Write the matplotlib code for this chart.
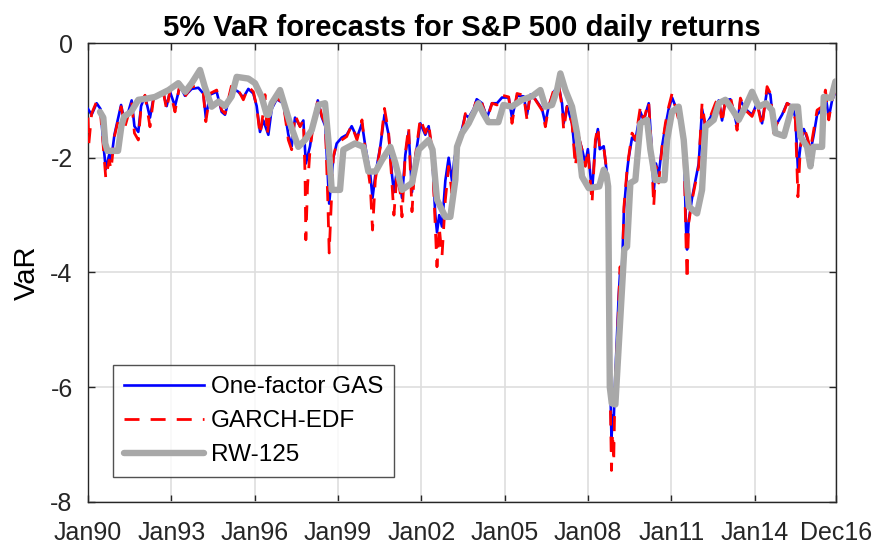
import matplotlib
matplotlib.use("Agg")
import matplotlib.pyplot as plt

plt.rcParams['font.family'] = ['Liberation Sans', 'DejaVu Sans']

title = "5% VaR forecasts for S&P 500 daily returns"
ylabel = "VaR"
series_names = ["One-factor GAS", "GARCH-EDF", "RW-125"]
tick_pos = [1990.0, 1993.0, 1996.0, 1999.0, 2002.0, 2005.0, 2008.0, 2011.0, 2014.0, 2016.92]
tick_labels = ["Jan90", "Jan93", "Jan96", "Jan99", "Jan02", "Jan05", "Jan08", "Jan11", "Jan14", "Dec16"]
y_ticks = [0, -2, -4, -6, -8]

# (decimal year, VaR) pairs
gas_pts = [
(1990.0,-1.15),(1990.13,-1.25),(1990.31,-1.05),(1990.45,-1.15),(1990.55,-1.75),(1990.64,-2.2),
(1990.76,-1.95),(1990.83,-2.05),(1990.95,-1.6),(1991.09,-1.3),(1991.19,-1.08),(1991.33,-1.4),
(1991.45,-1.2),(1991.57,-1.0),(1991.67,-1.45),(1991.81,-1.55),(1991.91,-1.1),(1992.05,-0.92),
(1992.23,-1.3),(1992.35,-0.98),(1992.53,-0.9),(1992.71,-0.88),(1992.83,-1.1),(1992.95,-0.85),
(1993.13,-1.1),(1993.31,-0.75),(1993.49,-0.92),(1993.73,-0.8),(1993.97,-0.78),(1994.15,-0.88),
(1994.24,-1.3),(1994.39,-0.9),(1994.63,-0.85),(1994.81,-1.2),(1994.93,-1.25),(1995.17,-0.78),
(1995.41,-0.85),(1995.59,-0.95),(1995.77,-0.8),(1995.95,-0.88),(1996.07,-1.1),(1996.19,-1.55),
(1996.31,-1.35),(1996.49,-1.6),(1996.61,-1.15),(1996.79,-0.98),(1997.03,-1.05),(1997.21,-1.6),
(1997.33,-1.8),(1997.45,-1.3),(1997.63,-1.45),(1997.75,-1.35),(1997.84,-2.1),(1997.99,-1.8),
(1998.11,-1.4),(1998.27,-1.0),(1998.42,-1.3),(1998.54,-1.45),(1998.68,-2.8),(1998.83,-2.0),
(1998.95,-1.75),(1999.13,-1.65),(1999.31,-1.6),(1999.49,-1.45),(1999.68,-1.65),(1999.86,-1.4),
(1999.98,-1.8),(2000.16,-2.3),(2000.24,-2.7),(2000.34,-2.3),(2000.52,-1.8),(2000.67,-1.25),
(2000.82,-1.6),(2000.94,-2.3),(2001.01,-2.6),(2001.12,-2.2),(2001.24,-2.45),(2001.30,-2.7),
(2001.42,-1.95),(2001.54,-1.55),(2001.66,-2.6),(2001.78,-2.0),(2001.96,-1.4),(2002.14,-1.6),
(2002.26,-1.45),(2002.38,-1.9),(2002.5,-3.0),(2002.56,-3.3),(2002.64,-3.0),(2002.74,-3.2),
(2002.86,-2.4),(2002.98,-2.0),(2003.1,-2.4),(2003.19,-2.0),(2003.34,-1.7),(2003.46,-1.5),
(2003.58,-1.25),(2003.7,-1.3),(2003.88,-1.15),(2003.99,-0.98),(2004.18,-1.05),(2004.36,-1.3),
(2004.54,-1.05),(2004.72,-1.05),(2004.9,-0.95),(2005.14,-0.95),(2005.26,-1.3),(2005.44,-0.92),
(2005.68,-0.93),(2005.8,-1.25),(2005.92,-0.9),(2006.1,-0.98),(2006.34,-1.15),(2006.46,-1.4),
(2006.58,-1.1),(2006.76,-0.85),(2006.94,-0.75),(2007.06,-1.05),(2007.12,-1.4),(2007.24,-1.1),
(2007.42,-1.4),(2007.54,-2.0),(2007.66,-1.65),(2007.78,-1.85),(2007.9,-2.1),(2007.99,-1.85),
(2008.14,-2.6),(2008.26,-1.75),(2008.35,-1.5),(2008.42,-1.85),(2008.56,-1.8),(2008.68,-2.3),
(2008.74,-3.6),(2008.8,-6.0),(2008.84,-6.9),(2008.88,-6.5),(2008.92,-6.6),(2008.96,-6.0),
(2009.05,-5.0),(2009.1,-4.4),(2009.15,-4.0),(2009.2,-4.2),(2009.25,-3.5),(2009.29,-2.9),
(2009.41,-2.2),(2009.46,-2.0),(2009.58,-1.65),(2009.7,-1.7),(2009.88,-1.2),(2010.0,-1.35),
(2010.18,-1.05),(2010.27,-1.7),(2010.36,-2.6),(2010.44,-2.1),(2010.54,-2.3),(2010.66,-1.8),
(2010.78,-1.45),(2010.9,-1.15),(2011.02,-0.95),(2011.14,-1.1),(2011.32,-1.4),(2011.44,-1.65),
(2011.52,-3.2),(2011.56,-3.6),(2011.62,-3.1),(2011.74,-2.7),(2011.86,-2.4),(2011.98,-2.1),
(2012.1,-1.15),(2012.22,-1.45),(2012.4,-1.3),(2012.58,-1.1),(2012.7,-1.0),(2012.82,-1.35),
(2012.94,-1.0),(2013.12,-0.98),(2013.24,-1.2),(2013.36,-1.45),(2013.48,-1.0),(2013.66,-1.15),
(2013.9,-1.25),(2014.08,-1.05),(2014.26,-1.4),(2014.44,-0.82),(2014.56,-0.9),(2014.68,-1.5),
(2014.8,-1.4),(2014.98,-1.25),(2015.16,-1.05),(2015.34,-1.1),(2015.46,-1.3),(2015.55,-2.2),
(2015.64,-1.8),(2015.76,-1.5),(2015.88,-1.65),(2016.0,-1.9),(2016.12,-1.6),(2016.24,-1.25),
(2016.42,-1.15),(2016.54,-0.9),(2016.66,-1.3),(2016.78,-1.0),(2016.9,-0.85)]

garch_pts = [
(1990.0,-1.30),(1990.03,-1.75),(1990.13,-1.23),(1990.31,-1.02),(1990.43,-1.11),(1990.55,-1.81),
(1990.64,-2.36),(1990.76,-2.04),(1990.83,-2.21),(1990.95,-1.63),(1991.09,-1.34),(1991.19,-1.11),
(1991.33,-1.46),(1991.45,-1.25),(1991.57,-1.02),(1991.67,-1.57),(1991.81,-1.69),(1991.91,-1.11),
(1992.05,-0.91),(1992.23,-1.46),(1992.35,-0.99),(1992.53,-0.88),(1992.71,-0.85),(1992.83,-1.17),
(1992.95,-0.82),(1993.13,-1.20),(1993.31,-0.70),(1993.49,-0.93),(1993.73,-0.76),(1993.97,-0.76),
(1994.15,-0.88),(1994.24,-1.37),(1994.39,-0.88),(1994.63,-0.82),(1994.81,-1.17),(1994.93,-1.23),
(1995.17,-0.73),(1995.41,-0.82),(1995.59,-0.99),(1995.77,-0.76),(1995.95,-0.85),(1996.07,-1.11),
(1996.19,-1.60),(1996.28,-1.30),(1996.37,-0.90),(1996.45,-1.60),(1996.55,-1.20),(1996.61,-1.11),
(1996.79,-0.96),(1997.03,-1.05),(1997.21,-1.69),(1997.33,-1.86),(1997.45,-1.25),(1997.63,-1.46),
(1997.75,-1.34),(1997.81,-2.27),(1997.84,-3.43),(1997.90,-2.50),(1997.99,-1.86),(1998.11,-1.40),
(1998.27,-0.99),(1998.42,-1.28),(1998.54,-1.40),(1998.63,-2.74),(1998.68,-3.66),(1998.75,-2.85),
(1998.83,-1.98),(1998.95,-1.75),(1999.13,-1.69),(1999.31,-1.63),(1999.49,-1.43),(1999.68,-1.69),
(1999.86,-1.34),(1999.98,-1.86),(2000.16,-2.50),(2000.24,-3.26),(2000.34,-2.39),(2000.52,-1.81),
(2000.67,-1.14),(2000.82,-1.57),(2000.94,-2.44),(2001.01,-3.00),(2001.12,-2.27),(2001.24,-2.62),
(2001.30,-3.03),(2001.42,-1.92),(2001.54,-1.46),(2001.66,-2.94),(2001.78,-1.98),(2001.96,-1.31),
(2002.14,-1.57),(2002.26,-1.40),(2002.38,-1.86),(2002.50,-3.20),(2002.56,-3.90),(2002.64,-3.20),
(2002.74,-3.72),(2002.86,-2.74),(2002.98,-2.15),(2003.10,-2.62),(2003.19,-2.15),(2003.34,-1.75),
(2003.46,-1.57),(2003.58,-1.23),(2003.70,-1.34),(2003.88,-1.17),(2003.99,-0.96),(2004.18,-1.05),
(2004.36,-1.34),(2004.54,-1.05),(2004.72,-1.08),(2004.90,-0.91),(2005.14,-0.94),(2005.26,-1.40),
(2005.44,-0.88),(2005.68,-0.91),(2005.80,-1.34),(2005.92,-0.85),(2006.10,-0.99),(2006.34,-1.17),
(2006.46,-1.46),(2006.58,-1.11),(2006.76,-0.82),(2006.94,-0.73),(2007.06,-1.11),(2007.12,-1.52),
(2007.24,-1.11),(2007.42,-1.40),(2007.54,-2.15),(2007.66,-1.63),(2007.78,-1.86),(2007.90,-2.15),
(2007.99,-1.86),(2008.14,-2.79),(2008.26,-1.69),(2008.35,-1.46),(2008.42,-1.86),(2008.56,-1.81),
(2008.68,-2.27),(2008.74,-3.50),(2008.80,-6.30),(2008.84,-7.45),(2008.88,-6.80),(2008.92,-7.30),
(2008.96,-6.20),(2009.05,-5.20),(2009.10,-4.50),(2009.15,-3.90),(2009.20,-4.50),(2009.25,-3.60),
(2009.29,-2.85),(2009.41,-2.15),(2009.46,-1.98),(2009.58,-1.57),(2009.70,-1.69),(2009.88,-1.11),
(2010.00,-1.34),(2010.18,-1.02),(2010.27,-1.81),(2010.36,-2.85),(2010.44,-2.15),(2010.54,-2.44),
(2010.66,-1.81),(2010.78,-1.40),(2010.90,-1.11),(2011.02,-0.88),(2011.14,-1.11),(2011.32,-1.46),
(2011.44,-1.69),(2011.52,-3.43),(2011.56,-4.13),(2011.62,-3.14),(2011.74,-2.74),(2011.86,-2.44),
(2011.98,-2.15),(2012.10,-1.05),(2012.22,-1.46),(2012.40,-1.28),(2012.58,-1.05),(2012.70,-0.94),
(2012.82,-1.40),(2012.94,-0.99),(2013.12,-0.94),(2013.24,-1.20),(2013.36,-1.52),(2013.48,-0.96),
(2013.66,-1.17),(2013.90,-1.28),(2014.08,-1.05),(2014.26,-1.46),(2014.44,-0.76),(2014.56,-0.88),
(2014.68,-1.57),(2014.80,-1.40),(2014.98,-1.28),(2015.16,-1.05),(2015.34,-1.11),(2015.46,-1.34),
(2015.55,-2.68),(2015.64,-1.81),(2015.76,-1.46),(2015.88,-1.63),(2016.00,-1.86),(2016.12,-1.52),
(2016.24,-1.17),(2016.42,-1.11),(2016.54,-0.82),(2016.66,-1.34),(2016.78,-0.99),(2016.90,-0.82)]

rw_pts = [
(1990.43,-1.20),(1990.55,-1.30),(1990.62,-1.75),(1990.70,-1.88),(1991.08,-1.88),(1991.20,-1.45),
(1991.30,-1.28),(1991.55,-1.20),(1991.81,-0.99),(1992.10,-0.97),(1992.41,-0.94),(1992.90,-0.82),
(1993.25,-0.70),(1993.50,-0.85),(1993.73,-0.70),(1994.03,-0.47),(1994.20,-0.76),(1994.45,-1.11),
(1994.70,-1.02),(1994.93,-1.10),(1995.17,-0.93),(1995.35,-0.59),(1995.77,-0.62),(1996.01,-0.70),
(1996.25,-0.94),(1996.43,-1.25),(1996.50,-1.25),(1996.61,-1.05),(1996.91,-0.82),(1997.09,-1.11),
(1997.27,-1.40),(1997.57,-1.81),(1997.81,-1.69),(1998.05,-1.52),(1998.29,-1.08),(1998.53,-1.05),
(1998.65,-1.69),(1998.77,-2.56),(1999.07,-2.56),(1999.19,-1.86),(1999.61,-1.75),(1999.91,-1.81),
(2000.09,-2.24),(2000.35,-2.24),(2000.58,-2.04),(2000.88,-1.81),(2001.06,-2.09),(2001.30,-2.56),
(2001.66,-2.44),(2001.90,-1.86),(2002.26,-1.69),(2002.40,-1.86),(2002.56,-2.73),(2002.86,-3.03),
(2003.04,-3.03),(2003.22,-2.39),(2003.28,-1.81),(2003.46,-1.57),(2003.70,-1.40),(2004.05,-1.05),
(2004.23,-1.23),(2004.41,-1.38),(2004.77,-1.38),(2004.95,-1.08),(2005.25,-1.11),(2005.62,-0.99),
(2005.98,-0.93),(2006.28,-0.82),(2006.46,-1.11),(2006.70,-1.08),(2006.88,-0.82),(2007.00,-0.53),
(2007.18,-0.82),(2007.42,-1.11),(2007.60,-1.57),(2007.66,-1.81),(2007.78,-2.33),(2008.02,-2.53),
(2008.40,-2.50),(2008.56,-2.21),(2008.66,-2.30),(2008.72,-2.50),(2008.78,-6.00),(2008.85,-6.28),
(2008.98,-6.30),(2009.30,-3.60),(2009.40,-3.55),(2009.52,-2.44),(2009.70,-2.39),(2009.88,-1.40),
(2010.12,-1.34),(2010.24,-1.86),(2010.42,-2.39),(2010.75,-2.39),(2010.84,-1.69),(2011.02,-1.20),
(2011.26,-1.11),(2011.44,-1.69),(2011.62,-2.85),(2011.92,-2.97),(2012.10,-2.56),(2012.22,-1.46),
(2012.52,-1.34),(2012.70,-1.05),(2012.94,-0.99),(2013.20,-1.17),(2013.42,-1.34),(2013.66,-1.11),
(2013.90,-0.85),(2014.14,-1.11),(2014.40,-1.05),(2014.62,-1.17),(2014.74,-1.57),(2015.05,-1.62),
(2015.34,-1.11),(2015.55,-1.11),(2015.64,-1.63),(2015.88,-1.81),(2016.00,-2.15),(2016.10,-1.81),
(2016.42,-1.81),(2016.48,-0.94),(2016.75,-0.96),(2016.90,-0.67)]

gas_t, gas_v = zip(*gas_pts)
garch_t, garch_v = zip(*garch_pts)
rw_t, rw_v = zip(*rw_pts)

fig = plt.figure(figsize=(8.75, 5.5), dpi=100)
ax = fig.add_axes([0.1006, 0.0873, 0.8548, 0.8345])

ax.plot(gas_t, gas_v, color=(0, 0, 1), lw=1.9, label=series_names[0], zorder=3)
ax.plot(garch_t, garch_v, color=(1, 0, 0), lw=2.0, dashes=(5.4, 4.0), label=series_names[1], zorder=4)
ax.plot(rw_t, rw_v, color=(0.66, 0.66, 0.66), lw=4.6, label=series_names[2], zorder=5,
        solid_joinstyle='round', solid_capstyle='round')

ax.set_xlim(1990.0, 2016.92)
ax.set_ylim(-8, 0)
ax.set_xticks(tick_pos)
ax.set_xticklabels(tick_labels)
ax.set_yticks(y_ticks)
ax.set_yticklabels([str(v) for v in y_ticks])
ax.grid(True, color='#dedede', lw=1.2)
ax.set_axisbelow(True)
ax.tick_params(direction='in', length=5, width=1.0, top=True, right=True,
               labelsize=18, colors='#262626')
ax.tick_params(axis='x', pad=14)
ax.tick_params(axis='y', pad=11)
for s in ax.spines.values():
    s.set_color('#262626')
    s.set_linewidth(1.0)

ax.set_title(title, fontsize=21, fontweight='bold', pad=5)
ax.set_ylabel(ylabel, fontsize=21, labelpad=7)

leg = ax.legend(loc='upper left', bbox_to_anchor=(0.033, 0.298), borderaxespad=0,
                fontsize=17.5, frameon=True, fancybox=False, edgecolor='#262626',
                handlelength=3.3, handletextpad=0.3, labelspacing=0.5, borderpad=0.45)
leg.get_frame().set_linewidth(1.0)
leg.set_zorder(10)

fig.savefig("out.png", dpi=100)
